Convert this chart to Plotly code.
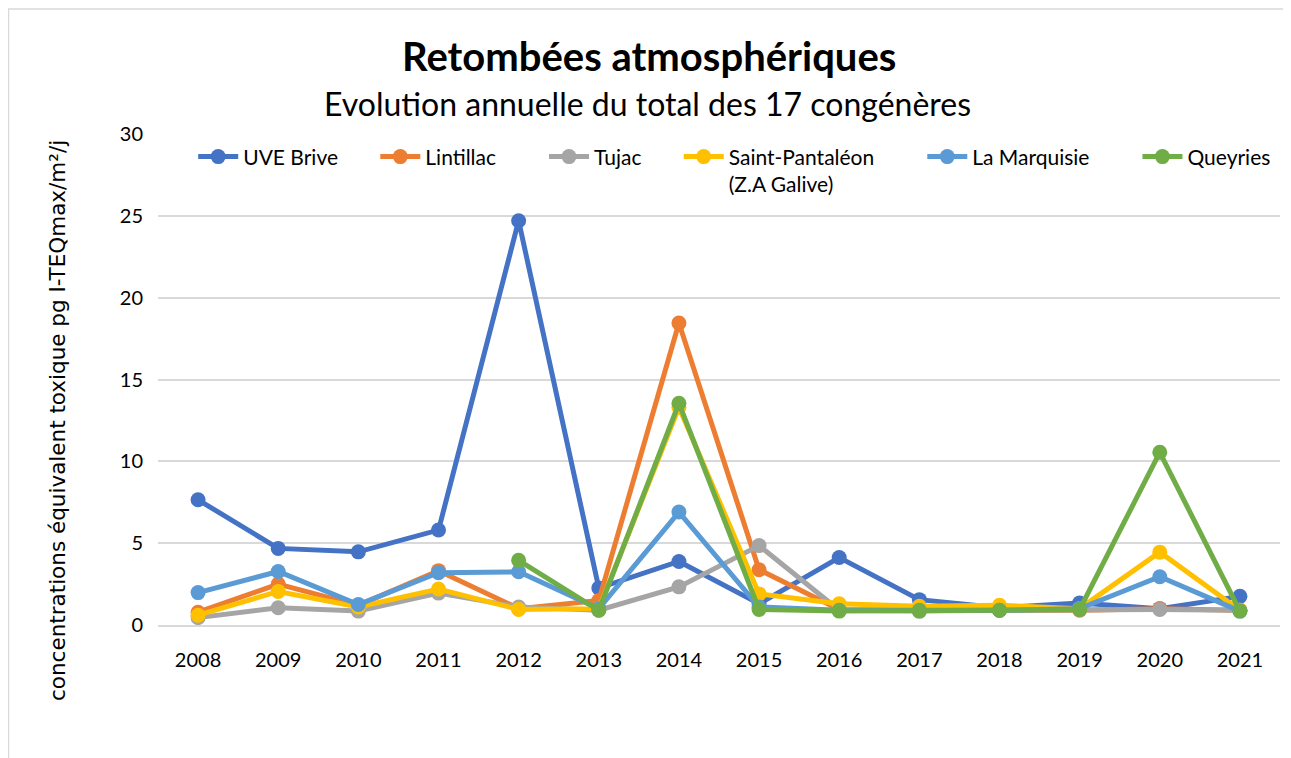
import plotly.graph_objects as go

years = ["2008", "2009", "2010", "2011", "2012", "2013", "2014", "2015", "2016", "2017", "2018", "2019", "2020", "2021"]

uve_brive = [7.65, 4.68, 4.47, 5.8, 24.7, 2.26, 3.88, 1.3, 4.12, 1.55, 1.05, 1.35, 1.0, 1.75]
lintillac = [0.78, 2.5, 1.2, 3.32, 1.0, 1.5, 18.45, 3.38, 0.95, 0.9, 0.9, 0.9, 1.0, 0.9]
tujac = [0.45, 1.05, 0.85, 1.95, 1.1, 0.9, 2.33, 4.85, 0.9, 0.85, 0.9, 0.95, 0.95, 0.9]
saint_pantaleon = [0.6, 2.05, 1.1, 2.2, 0.95, 1.0, 13.3, 1.9, 1.3, 1.15, 1.2, 1.0, 4.45, 0.9]
la_marquisie = [1.98, 3.27, 1.25, 3.2, 3.25, 1.0, 6.9, 1.1, 0.9, 0.9, 0.9, 1.0, 2.95, 0.85]
queyries = [None, None, None, None, 3.95, 0.9, 13.55, 0.95, 0.85, 0.85, 0.9, 0.95, 10.55, 0.85]

nb = "\u00a0"
names = ["UVE Brive" + nb * 6, "Lintillac" + nb * 8, "Tujac" + nb * 6,
         "Saint-Pantaléon" + nb * 8 + "<br>(Z.A Galive)", "La Marquisie" + nb * 8, "Queyries"]
series = [uve_brive, lintillac, tujac, saint_pantaleon, la_marquisie, queyries]
colors = ["#4472C4", "#ED7D31", "#A5A5A5", "#FFC000", "#5B9BD5", "#70AD47"]

fig = go.Figure()
for name, vals, col in zip(names, series, colors):
    fig.add_trace(go.Scatter(
        x=years, y=vals, name=name, mode="lines+markers",
        line=dict(color=col, width=5),
        marker=dict(color=col, size=15),
        connectgaps=False,
    ))

# page body adds an 8px offset; figure is sized to compensate
W, H = 1283, 750
L, R, T, B = 150, 11, 126, 133
PW = W - L - R
PH = H - T - B

fig.update_layout(
    width=W, height=H,
    margin=dict(l=L, r=R, t=T, b=B),
    paper_bgcolor="white", plot_bgcolor="white",
    font=dict(family="Lato, Open Sans, sans-serif", size=20, color="#000000"),
    showlegend=True,
    legend=dict(orientation="h", x=0.514, xanchor="center", y=0.995, yanchor="top",
                valign="top", font=dict(size=21, color="#000000"),
                bgcolor="rgba(0,0,0,0)", itemwidth=40, tracegroupgap=0),
    xaxis=dict(type="category", range=[-0.5, 13.5], showgrid=False, showline=True,
               linecolor="#D9D9D9", linewidth=1.5, ticks="", ticklabelstandoff=16,
               tickfont=dict(size=20, color="#000000")),
    yaxis=dict(range=[0, 30], dtick=5, showgrid=True, gridcolor="#D9D9D9", gridwidth=1.5,
               zeroline=False, showline=False, ticks="", ticklabelstandoff=14,
               tickfont=dict(size=20, color="#000000")),
    annotations=[
        dict(text="<b>Retombées atmosphériques</b>", xref="paper", yref="paper",
             x=(649 - 158) / PW, y=(625 - 56) / PH, xanchor="center", yanchor="middle",
             showarrow=False, font=dict(size=40, color="#000000")),
        dict(text="Evolution annuelle du total des 17 congénères", xref="paper", yref="paper",
             x=(647 - 158) / PW, y=(625 - 103) / PH, xanchor="center", yanchor="middle",
             showarrow=False, font=dict(size=32, color="#000000")),
        dict(text="concentrations équivalent toxique pg I-TEQmax/m²/j", xref="paper", yref="paper",
             x=(57 - 158) / PW, y=(625 - 421) / PH, xanchor="center", yanchor="middle",
             textangle=-90, showarrow=False,
             font=dict(family="DejaVu Sans", size=21.5, color="#000000")),
    ],
    shapes=[
        dict(type="rect", xref="paper", yref="paper",
             x0=(0.5 - L) / PW, x1=(1281.5 - L) / PW,
             y0=(T + PH - 800) / PH, y1=(T + PH - 1) / PH,
             line=dict(color="#D9D9D9", width=1.5), fillcolor="rgba(0,0,0,0)", layer="below"),
    ],
)

fig.write_html("out.html")
